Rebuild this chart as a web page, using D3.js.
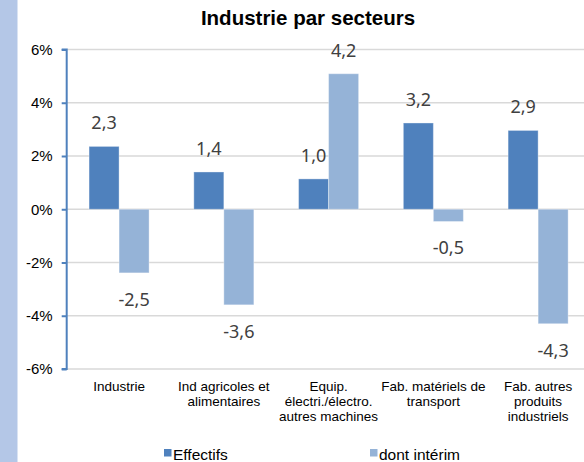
<!DOCTYPE html>
<html>
<head>
<meta charset="utf-8">
<script src="https://cdn.jsdelivr.net/npm/d3@7"></script>
<style>
  body { margin: 0; background: #fff; }
  svg { display: block; }
</style>
</head>
<body>
<div id="chart"></div>
<script>
// data (bar heights and printed labels differ a little)
const categories = [
  ['Industrie'],
  ['Ind agricoles et', 'alimentaires'],
  ['Equip.', 'électri./électro.', 'autres machines'],
  ['Fab. matériels de', 'transport'],
  ['Fab. autres', 'produits', 'industriels']
];
const seriesNames = ['Effectifs', 'dont intérim'];
const effectifs = [2.36, 1.40, 1.14, 3.24, 2.96];
const interim = [-2.39, -3.59, 5.09, -0.46, -4.30];
const effectifsLabels = ['2,3', '1,4', '1,0', '3,2', '2,9'];
const interimLabels = ['-2,5', '-3,6', '4,2', '-0,5', '-4,3'];
const yTicks = [-6, -4, -2, 0, 2, 4, 6];

const colors = ['#4f81bd', '#95b3d7'];
const width = 584, height = 462;
const plot = { left: 66.7, right: 590.5, top: 49.5, bottom: 369 };
const arial = '"Liberation Sans", Arial, sans-serif';

const svg = d3.select('#chart')
  .append('svg')
  .attr('width', width)
  .attr('height', height);

// light blue strip on the left edge
svg.append('rect')
  .attr('x', 0).attr('y', 0)
  .attr('width', 17.5).attr('height', height)
  .attr('fill', '#b4c7e7');

const x0 = d3.scaleBand()
  .domain(d3.range(categories.length))
  .range([plot.left, plot.right])
  .paddingInner(0.427)
  .paddingOuter(0.2135);

const x1 = d3.scaleBand()
  .domain(seriesNames)
  .range([0, x0.bandwidth()]);

const y = d3.scaleLinear()
  .domain([-6, 6])
  .range([plot.bottom, plot.top]);

// gridlines
svg.append('g')
  .selectAll('line')
  .data(yTicks)
  .join('line')
    .attr('x1', plot.left).attr('x2', width)
    .attr('y1', d => y(d)).attr('y2', d => y(d))
    .attr('stroke', '#d9d9d9')
    .attr('stroke-width', 1.6);

// bars
const rows = categories.map((c, i) => [
  { s: seriesNames[0], v: effectifs[i], label: effectifsLabels[i] },
  { s: seriesNames[1], v: interim[i], label: interimLabels[i] }
]);

const groups = svg.append('g')
  .selectAll('g')
  .data(rows)
  .join('g')
    .attr('transform', (d, i) => `translate(${x0(i)},0)`);

groups.selectAll('rect')
  .data(d => d)
  .join('rect')
    .attr('x', d => x1(d.s))
    .attr('width', x1.bandwidth())
    .attr('y', d => y(Math.max(0, d.v)))
    .attr('height', d => Math.abs(y(d.v) - y(0)))
    .attr('fill', (d, i) => colors[i])
    .attr('stroke', '#ffffff')
    .attr('stroke-opacity', 0.35)
    .attr('stroke-width', 1);

groups.selectAll('text')
  .data(d => d)
  .join('text')
    .attr('x', d => x1(d.s) + x1.bandwidth() / 2)
    .attr('y', d => d.v >= 0 ? y(d.v) - 17 : y(d.v) + 33)
    .attr('text-anchor', 'middle')
    .attr('font-family', '"Noto Sans", "Open Sans", sans-serif')
    .attr('font-size', 18)
    .attr('fill', '#404040')
    .text(d => d.label);

// y axis
const yAxis = svg.append('g')
  .attr('transform', `translate(${plot.left},0)`)
  .call(d3.axisLeft(y).tickValues(yTicks).tickSize(5).tickPadding(9).tickFormat(d => d + '%'));
yAxis.select('.domain').attr('stroke', '#4f81bd').attr('stroke-width', 2)
  .attr('d', `M-5,${y(6)}H0V${y(-6)}H-5`);
yAxis.selectAll('.tick line').attr('stroke', '#4f81bd').attr('stroke-width', 2);
yAxis.selectAll('.tick text')
  .attr('font-family', arial)
  .attr('font-size', 15)
  .attr('fill', '#000');

// category labels
const cat = svg.append('g')
  .selectAll('text')
  .data(categories)
  .join('text')
    .attr('x', (d, i) => x0(i) + x0.bandwidth() / 2)
    .attr('y', 390.5)
    .attr('text-anchor', 'middle')
    .attr('font-family', arial)
    .attr('font-size', 13.5)
    .attr('fill', '#000');
cat.selectAll('tspan')
  .data(d => d)
  .join('tspan')
    .attr('x', function () { return this.parentNode.getAttribute('x'); })
    .attr('dy', (d, i) => i === 0 ? 0 : 15)
    .text(d => d);

// title
svg.append('text')
  .attr('x', 308)
  .attr('y', 25)
  .attr('text-anchor', 'middle')
  .attr('font-family', arial)
  .attr('font-weight', 'bold')
  .attr('font-size', 20.5)
  .attr('fill', '#000')
  .text('Industrie par secteurs');

// legend
const legendX = [164, 370];
const legend = svg.append('g')
  .selectAll('g')
  .data(seriesNames)
  .join('g')
    .attr('transform', (d, i) => `translate(${legendX[i]},0)`);
legend.append('rect')
  .attr('x', 0).attr('y', 449)
  .attr('width', 7.5).attr('height', 7.5)
  .attr('fill', (d, i) => colors[i]);
legend.append('text')
  .attr('x', 9).attr('y', 460)
  .attr('font-family', arial)
  .attr('font-size', 15.5)
  .attr('fill', '#000')
  .text(d => d);
</script>
</body>
</html>
